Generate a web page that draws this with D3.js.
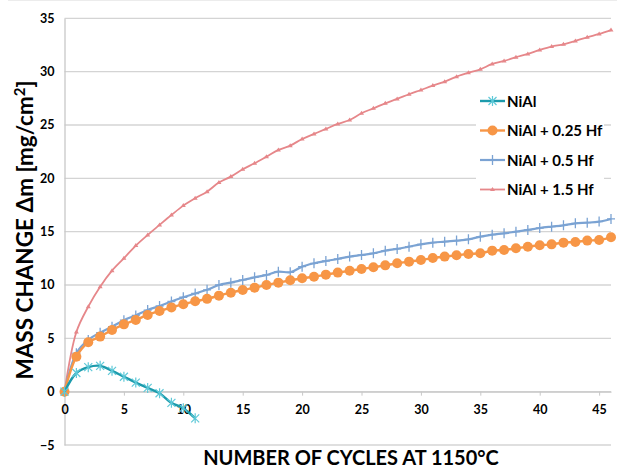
<!DOCTYPE html>
<html>
<head>
  <meta charset="utf-8">
  <style type="text/css">
    body { margin: 0; background: #fff; }
    text { font-family: Lato, "Open Sans", sans-serif; font-weight: bold; fill: #000; }
  </style>
  <script src="https://d3js.org/d3.v7.min.js"></script>
</head>
<body>
  <div id="chart"></div>
  <script type="text/javascript">
    // values
    var cyclesNiAl = [0, 1, 2, 3, 4, 5, 6, 7, 8, 9, 10, 11];
    var niAl = [0, 1.75, 2.3, 2.42, 1.95, 1.4, 0.85, 0.35, -0.15, -1.05, -1.55, -2.5];

    var cycles = d3.range(0, 47);
    var hf025 = [0, 3.28, 4.63, 5.16, 5.78, 6.31, 6.72, 7.19, 7.56, 7.9, 8.2, 8.47, 8.7, 9.0, 9.28, 9.53,
      9.75, 10.0, 10.22, 10.44, 10.63, 10.78, 10.97, 11.16, 11.34, 11.5, 11.66, 11.84, 12.03, 12.19, 12.34,
      12.53, 12.66, 12.78, 12.9, 12.97, 13.22, 13.28, 13.44, 13.59, 13.72, 13.81, 13.97, 14.03, 14.16, 14.22, 14.47];
    var hf05 = [0, 3.6, 4.85, 5.53, 6.09, 6.7, 7.15, 7.65, 8.03, 8.45, 8.85, 9.2, 9.55, 10.0, 10.22, 10.47,
      10.72, 10.94, 11.25, 11.19, 11.72, 12.03, 12.25, 12.44, 12.66, 12.81, 12.97, 13.22, 13.38, 13.59, 13.81,
      13.97, 14.06, 14.16, 14.28, 14.53, 14.72, 14.84, 15.0, 15.16, 15.34, 15.47, 15.59, 15.78, 15.84, 15.94, 16.19];
    var hf15 = [0, 5.6, 7.97, 9.84, 11.34, 12.5, 13.69, 14.69, 15.63, 16.56, 17.44, 18.13, 18.75, 19.6, 20.16,
      20.85, 21.41, 22.03, 22.66, 23.06, 23.69, 24.16, 24.63, 25.1, 25.47, 26.1, 26.56, 27.03, 27.44, 27.88,
      28.28, 28.69, 29.06, 29.53, 29.9, 30.22, 30.72, 31.0, 31.35, 31.66, 32.03, 32.35, 32.56, 32.88, 33.22, 33.53, 33.9];

    var xTicks = [0, 5, 10, 15, 20, 25, 30, 35, 40, 45];
    var yTicks = [-5, 0, 5, 10, 15, 20, 25, 30, 35];
    var seriesNames = ["NiAl", "NiAl + 0.25 Hf", "NiAl + 0.5 Hf", "NiAl + 1.5 Hf"];

    var width = 617, height = 470;
    var svg = d3.select("#chart").append("svg")
      .attr("width", width).attr("height", height);

    var x = d3.scaleLinear().domain([0, 46]).range([64.5, 611]);
    var y = d3.scaleLinear().domain([-5, 35]).range([445, 18.3]);

    svg.append("line").attr("x1", 8).attr("x2", width).attr("y1", 0.5).attr("y2", 0.5)
      .attr("stroke", "#ececec");

    // gridlines
    svg.append("g").selectAll("line").data(yTicks).enter().append("line")
      .attr("x1", x(0)).attr("x2", x(46))
      .attr("y1", function(d) { return y(d); }).attr("y2", function(d) { return y(d); })
      .attr("stroke", "#d4d4d4").attr("stroke-width", 1.3);

    // y axis
    var yAxis = svg.append("g").attr("transform", "translate(" + x(0) + ",0)")
      .call(d3.axisLeft(y).tickValues(yTicks).tickSize(0).tickPadding(10));
    yAxis.select(".domain").attr("stroke", "#c8c8c8").attr("stroke-width", 1.3);
    yAxis.selectAll("text").style("font-size", "12.5px").style("font-family", "Lato, sans-serif");

    // x axis along zero
    var xAxis = svg.append("g").attr("transform", "translate(0," + y(0) + ")")
      .call(d3.axisBottom(x).tickValues(xTicks).tickSize(4).tickPadding(9).tickSizeOuter(0));
    xAxis.select(".domain").attr("stroke", "#c8c8c8").attr("stroke-width", 1.3);
    xAxis.selectAll(".tick line").attr("stroke", "#c8c8c8");
    xAxis.selectAll("text").style("font-size", "12.5px").style("font-family", "Lato, sans-serif");

    var line = d3.line().curve(d3.curveCatmullRom.alpha(0.5))
      .x(function(d) { return x(d[0]); }).y(function(d) { return y(d[1]); });

    var series = [
      { name: seriesNames[3], xs: cycles, ys: hf15, color: "#e6878a", w: 1.8, mark: "tri" },
      { name: seriesNames[2], xs: cycles, ys: hf05, color: "#7ba3d3", w: 2.2, mark: "plus" },
      { name: seriesNames[1], xs: cycles, ys: hf025, color: "#f79646", w: 2.4, mark: "circle" },
      { name: seriesNames[0], xs: cyclesNiAl, ys: niAl, color: "#1c9bac", w: 2.4, mark: "star" }
    ];

    function drawMarker(g, kind, color, cx, cy) {
      if (kind === "circle") {
        g.append("circle").attr("cx", cx).attr("cy", cy).attr("r", 5).attr("fill", color);
      } else if (kind === "plus") {
        g.append("path").attr("d", "M" + (cx - 4) + "," + cy + "H" + (cx + 4) + "M" + cx + "," + (cy - 5) + "V" + (cy + 5))
          .attr("stroke", color).attr("stroke-width", 1.3).attr("fill", "none");
      } else if (kind === "tri") {
        g.append("path").attr("d", "M" + (cx - 2.5) + "," + (cy + 1.5) + "L" + (cx + 2.5) + "," + (cy + 1.5) + "L" + cx + "," + (cy - 2.5) + "Z")
          .attr("fill", color);
      } else {
        g.append("path").attr("d",
          "M" + (cx - 4) + "," + (cy - 4) + "L" + (cx + 4) + "," + (cy + 4) +
          "M" + (cx - 4) + "," + (cy + 4) + "L" + (cx + 4) + "," + (cy - 4) +
          "M" + cx + "," + (cy - 5) + "V" + (cy + 5))
          .attr("stroke", "#5fc9d8").attr("stroke-width", 1.2).attr("fill", "none");
      }
    }

    series.forEach(function(s) {
      var pts = s.xs.map(function(v, i) { return [v, s.ys[i]]; });
      var g = svg.append("g");
      g.append("path").datum(pts).attr("d", line)
        .attr("fill", "none").attr("stroke", s.color).attr("stroke-width", s.w);
      pts.forEach(function(p) { drawMarker(g, s.mark, s.color, x(p[0]), y(p[1])); });
    });

    // legend
    var lg = svg.append("g");
    lg.append("rect").attr("x", 476).attr("y", 88).attr("width", 128).attr("height", 112).attr("fill", "#fff");
    var legendItems = [series[3], series[2], series[1], series[0]];
    legendItems.forEach(function(s, i) {
      var ly = 101 + i * 29.5;
      lg.append("line").attr("x1", 480).attr("x2", 505).attr("y1", ly).attr("y2", ly)
        .attr("stroke", s.color).attr("stroke-width", s.w);
      drawMarker(lg, s.mark, s.color, 492.5, ly);
      lg.append("text").attr("x", 507).attr("y", ly + 5.5).style("font-size", "15px").text(s.name);
    });

    // axis titles
    svg.append("text").attr("x", 351).attr("y", 465).attr("text-anchor", "middle")
      .style("font-size", "20px").text("NUMBER OF CYCLES AT 1150°C");
    svg.append("text").attr("transform", "translate(33,230) rotate(-90)").attr("text-anchor", "middle")
      .style("font-size", "22.5px")
      .html("MASS CHANGE Δm [mg/cm<tspan dy='-8' style='font-size:15px'>2</tspan><tspan dy='8'>]</tspan>");
  </script>
</body>
</html>
